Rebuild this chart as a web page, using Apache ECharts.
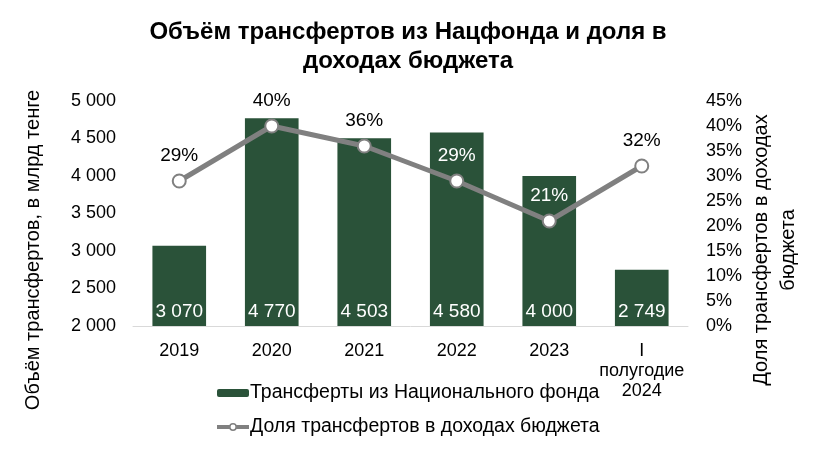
<!DOCTYPE html>
<html>
<head>
<meta charset="utf-8">
<script src="https://cdn.jsdelivr.net/npm/echarts@6/dist/echarts.min.js"></script>
<style>html,body{margin:0;padding:0;background:#fff;}#c{width:816px;height:450px;}</style>
</head>
<body>
<div id="c"></div>
<script>
var categories = ['2019', '2020', '2021', '2022', '2023', 'I\nполугодие\n2024'];
var transfers = [3070, 4770, 4503, 4580, 4000, 2749];
var sharePct = [29, 40, 36, 29, 21, 32];
var leftTicks = {min: 2000, max: 5000, interval: 500};
var rightTicks = {min: 0, max: 45, interval: 5};
var titleText = 'Объём трансфертов из Нацфонда и доля в\nдоходах бюджета';
var barName = 'Трансферты из Национального фонда';
var lineName = 'Доля трансфертов в доходах бюджета';
var leftAxisName = 'Объём трансфертов, в млрд тенге';
var rightAxisName = 'Доля трансфертов в доходах\nбюджета';

var FONT = '"Liberation Sans", Arial, sans-serif';
var whiteLabelIdx = [3, 4];
function fmtThousands(v) { return String(v).replace(/\B(?=(\d{3})+(?!\d))/g, ' '); }

var chart = echarts.init(document.getElementById('c'), null, {renderer: 'canvas'});
chart.setOption({
  backgroundColor: '#fff',
  textStyle: {fontFamily: FONT},
  title: {
    text: titleText, left: 'center', top: 13,
    textStyle: {fontFamily: FONT, fontSize: 24, fontWeight: 'bold', color: '#000', lineHeight: 29}
  },
  grid: {left: 133, right: 128, top: 101, bottom: 124, containLabel: false},
  legend: {
    orient: 'vertical', left: 210, top: 378, itemWidth: 32, itemHeight: 8, itemGap: 14,
    textStyle: {fontFamily: FONT, fontSize: 19.5, color: '#000', padding: [0, 0, 0, -4]},
    data: [
      {name: barName},
      {name: lineName, lineStyle: {width: 4, color: '#808080'}, itemStyle: {color: '#fff', borderColor: '#808080', borderWidth: 1.5}}
    ]
  },
  xAxis: {
    type: 'category', data: categories,
    axisLine: {lineStyle: {color: '#d9d9d9', width: 1}},
    axisTick: {show: false},
    axisLabel: {fontFamily: FONT, fontSize: 18, color: '#000', margin: 15, lineHeight: 20, interval: 0}
  },
  yAxis: [{
    type: 'value', min: leftTicks.min, max: leftTicks.max, interval: leftTicks.interval,
    splitLine: {show: false}, axisLine: {show: false}, axisTick: {show: false},
    axisLabel: {fontFamily: FONT, fontSize: 18, color: '#000', margin: 17, formatter: fmtThousands}
  }, {
    type: 'value', min: rightTicks.min, max: rightTicks.max, interval: rightTicks.interval,
    splitLine: {show: false}, axisLine: {show: false}, axisTick: {show: false},
    axisLabel: {fontFamily: FONT, fontSize: 18, color: '#000', margin: 18, formatter: '{value}%'}
  }],
  series: [{
    name: barName, type: 'bar', data: transfers, yAxisIndex: 0,
    barCategoryGap: '42%',
    itemStyle: {color: '#2A5239'},
    label: {show: true, position: 'insideBottom', distance: 5, color: '#fff', fontFamily: FONT, fontSize: 19,
      formatter: function (p) { return fmtThousands(p.value); }}
  }, {
    name: lineName, type: 'line', yAxisIndex: 1,
    data: sharePct.map(function (v, i) {
      return {value: v, label: {color: whiteLabelIdx.indexOf(i) >= 0 ? '#fff' : '#000'}};
    }),
    symbol: 'circle', symbolSize: 13,
    lineStyle: {color: '#808080', width: 5},
    itemStyle: {color: '#fff', borderColor: '#808080', borderWidth: 2},
    label: {show: true, position: 'top', distance: 8, fontFamily: FONT, fontSize: 19, formatter: '{c}%'},
    z: 5
  }],
  graphic: [{
    type: 'text', x: 33, y: 250, rotation: Math.PI / 2,
    style: {text: leftAxisName, fontFamily: FONT, fontSize: 20, fill: '#000', textAlign: 'center', textVerticalAlign: 'middle'}
  }, {
    type: 'text', x: 775, y: 250, rotation: Math.PI / 2,
    style: {text: rightAxisName, fontFamily: FONT, fontSize: 20, fill: '#000', textAlign: 'center', textVerticalAlign: 'middle', lineHeight: 27}
  }]
});
</script>
</body>
</html>
